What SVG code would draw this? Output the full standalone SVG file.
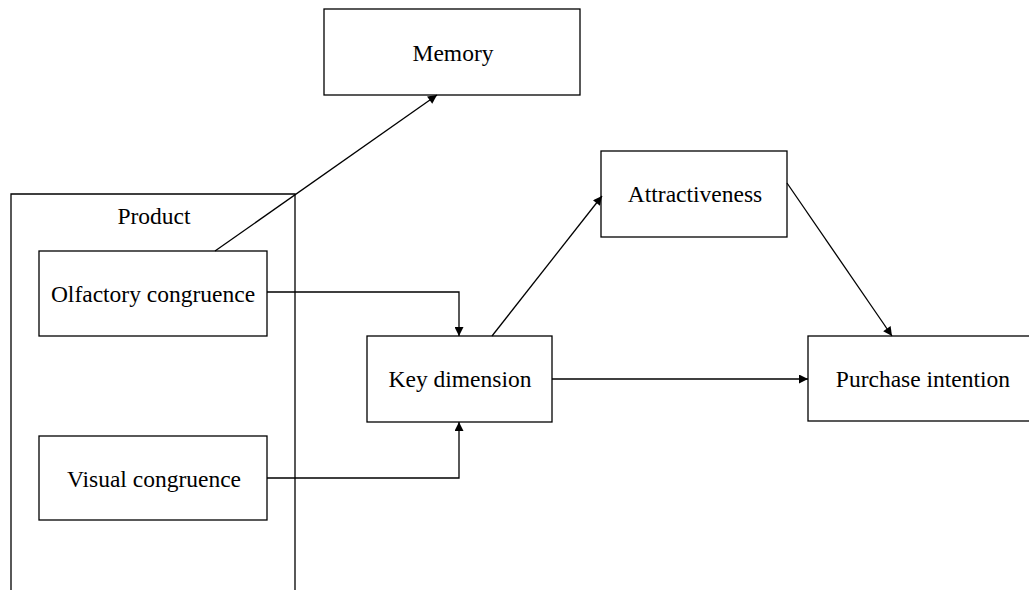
<svg xmlns="http://www.w3.org/2000/svg" width="1029" height="590" viewBox="0 0 1029 590">
<style>
.box{fill:#fff;stroke:#000;stroke-width:1.3}
.outer{fill:none;stroke:#000;stroke-width:1.3}
.t{font-family:"Liberation Serif",serif;font-size:23.5px;fill:#000;text-anchor:middle}
.c{fill:none;stroke:#000;stroke-width:1.3}
</style>
<defs>
<marker id="ah" viewBox="0 0 10 10" refX="10" refY="5" markerWidth="10" markerHeight="9" markerUnits="userSpaceOnUse" orient="auto">
<path d="M0,0 L10,5 L0,10 z" fill="#000"/>
</marker>
</defs>
<g id="product">
<path class="outer" d="M11,600 V194 H295 V600"/>
<text class="t" x="154" y="224">Product</text>
</g>
<g id="memory">
<rect class="box" x="324" y="9" width="256" height="86"/>
<text class="t" x="453" y="61">Memory</text>
</g>
<g id="olfactory">
<rect class="box" x="39" y="251" width="228" height="85"/>
<text class="t" x="153" y="302">Olfactory congruence</text>
</g>
<g id="visual">
<rect class="box" x="39" y="436" width="228" height="84"/>
<text class="t" x="154" y="487">Visual congruence</text>
</g>
<g id="key">
<rect class="box" x="367" y="336" width="185" height="86"/>
<text class="t" x="460" y="387">Key dimension</text>
</g>
<g id="attractiveness">
<rect class="box" x="601" y="151" width="186" height="86"/>
<text class="t" x="695" y="202">Attractiveness</text>
</g>
<g id="purchase">
<rect class="box" x="808" y="336" width="240" height="85"/>
<text class="t" x="923" y="387">Purchase intention</text>
</g>
<g id="connectors">
<path class="c" d="M215,251 L437,95" marker-end="url(#ah)"/>
<path class="c" d="M267,292 H459 V336" marker-end="url(#ah)"/>
<path class="c" d="M267,478 H459 V422" marker-end="url(#ah)"/>
<path class="c" d="M492,336 L602,196" marker-end="url(#ah)"/>
<path class="c" d="M787,183 L892,336" marker-end="url(#ah)"/>
<path class="c" d="M552,379 H808" marker-end="url(#ah)"/>
</g>
</svg>
